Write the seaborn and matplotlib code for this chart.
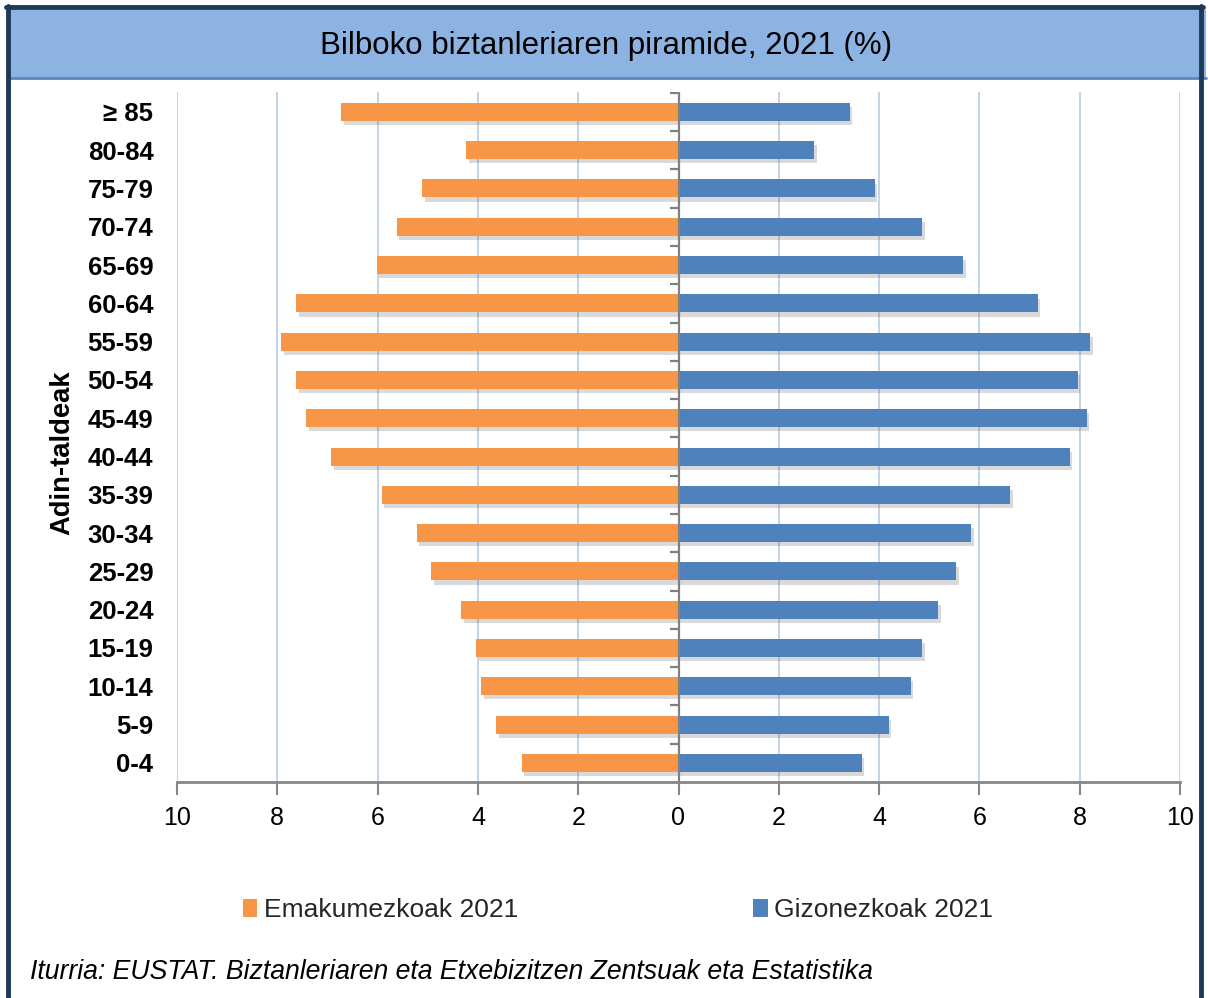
import matplotlib
matplotlib.use('Agg')
import matplotlib.pyplot as plt
import matplotlib.patheffects as pe
from matplotlib.patches import Rectangle, Patch
from matplotlib.lines import Line2D
import seaborn as sns
import pandas as pd
import numpy as np

# ---- data ----
age_groups = ["≥ 85", "80-84", "75-79", "70-74", "65-69", "60-64", "55-59", "50-54",
              "45-49", "40-44", "35-39", "30-34", "25-29", "20-24", "15-19", "10-14",
              "5-9", "0-4"]
female = [6.72, 4.23, 5.12, 5.62, 6.02, 7.62, 7.92, 7.62, 7.42, 6.92, 5.92, 5.22,
          4.93, 4.33, 4.03, 3.93, 3.63, 3.13]
male = [3.41, 2.71, 3.91, 4.85, 5.68, 7.16, 8.20, 7.96, 8.14, 7.80, 6.62, 5.84,
        5.54, 5.18, 4.85, 4.63, 4.19, 3.65]
series = ["Emakumezkoak 2021", "Gizonezkoak 2021"]
colors = ["#F79646", "#4F81BD"]
xticks = [-10, -8, -6, -4, -2, 0, 2, 4, 6, 8, 10]
title = "Bilboko biztanleriaren piramide, 2021 (%)"
ylabel = "Adin-taldeak"
source = "Iturria: EUSTAT. Biztanleriaren eta Etxebizitzen Zentsuak eta Estatistika"

df = pd.DataFrame({
    "age": age_groups * 2,
    "value": [-v for v in female] + male,
    "sex": [series[0]] * len(age_groups) + [series[1]] * len(age_groups),
})

sns.set_theme(style="white")
plt.rcParams['font.family'] = ['Liberation Sans', 'DejaVu Sans']

W, H = 1208, 998
fig = plt.figure(figsize=(W / 100, H / 100), dpi=100)
fig.patch.set_facecolor("white")

def fx(px):
    return px / W

def fy(py):
    return 1 - py / H

ax = fig.add_axes([fx(177), fy(782), fx(1180) - fx(177), fy(92) - fy(782)])
sns.barplot(data=df, x="value", y="age", hue="sex", order=age_groups,
            hue_order=series, palette=colors, dodge=False, width=0.47,
            saturation=1, legend=False, ax=ax, zorder=3)

for p in ax.patches:
    p.set_path_effects([pe.SimplePatchShadow(offset=(2, -3), alpha=0.22, shadow_rgbFace="#555555"),
                        pe.Normal()])
    p.set_linewidth(0)

ax.set_xlim(-10, 10)
ax.set_ylim(17.5, -0.52)
ax.set_xticks(xticks)
ax.set_xticklabels([str(abs(t)) for t in xticks], fontsize=18)
ax.grid(axis="x", color="#B9CDE5", linewidth=1.2, zorder=0)
ax.grid(axis="y", visible=False)
ax.set_axisbelow(True)
for s in ["top", "right", "left"]:
    ax.spines[s].set_visible(False)
ax.spines["bottom"].set_color("#868686")
ax.spines["bottom"].set_linewidth(2)
ax.tick_params(axis="x", bottom=True, length=9, width=1.5, color="#868686",
               direction="out", pad=8, labelcolor="black")
ax.tick_params(axis="y", left=False, pad=11)
for lab in ax.get_yticklabels():
    lab.set_fontweight("bold")
    lab.set_fontsize(18.5)
    lab.set_color("black")
ax.set_xlabel("")
ax.set_ylabel("")

# zero axis with small category ticks
ax.axvline(0, color="#808080", linewidth=1.6, zorder=4)
ax.hlines(np.arange(-0.5, 17.0, 1.0), -0.17, 0, color="#808080", linewidth=1.6, zorder=4)

# y label
fig.text(fx(62), fy(453), ylabel, rotation=90, ha="center", va="center",
         fontsize=19.7, fontweight="bold", color="black")

# title band
fig.patches.append(Rectangle((fx(10), fy(78)), fx(1206) - fx(10), fy(10) - fy(78),
                             transform=fig.transFigure, facecolor="#8DB3E2",
                             edgecolor="none", zorder=0))
fig.lines.append(Line2D([fx(10), fx(1206)], [fy(78), fy(78)], transform=fig.transFigure,
                        color="#5A87C0", linewidth=2))
fig.text(fx(606), fy(46), title, ha="center", va="center", fontsize=22.5, color="black")

# outer border
border = "#1F3A57"
fig.lines.append(Line2D([fx(8), fx(8)], [fy(6), 0], transform=fig.transFigure,
                        color=border, linewidth=3.5))
fig.lines.append(Line2D([fx(1201), fx(1201)], [fy(6), 0], transform=fig.transFigure,
                        color=border, linewidth=3.5))
fig.lines.append(Line2D([fx(6), fx(1203)], [fy(7), fy(7)], transform=fig.transFigure,
                        color=border, linewidth=3.5))

# legend
handles = [Patch(facecolor=c, edgecolor="none") for c in colors]
fig.legend(handles, series, loc="center", bbox_to_anchor=(fx(618), fy(910)), ncol=2,
           frameon=False, fontsize=19, handlelength=0.55, handleheight=0.7,
           handletextpad=0.25, columnspacing=8.9)

# source
fig.text(fx(30), fy(972), source, ha="left", va="center", fontsize=19.2,
         style="italic", color="black")

fig.savefig("out.png", dpi=100, facecolor="white")
